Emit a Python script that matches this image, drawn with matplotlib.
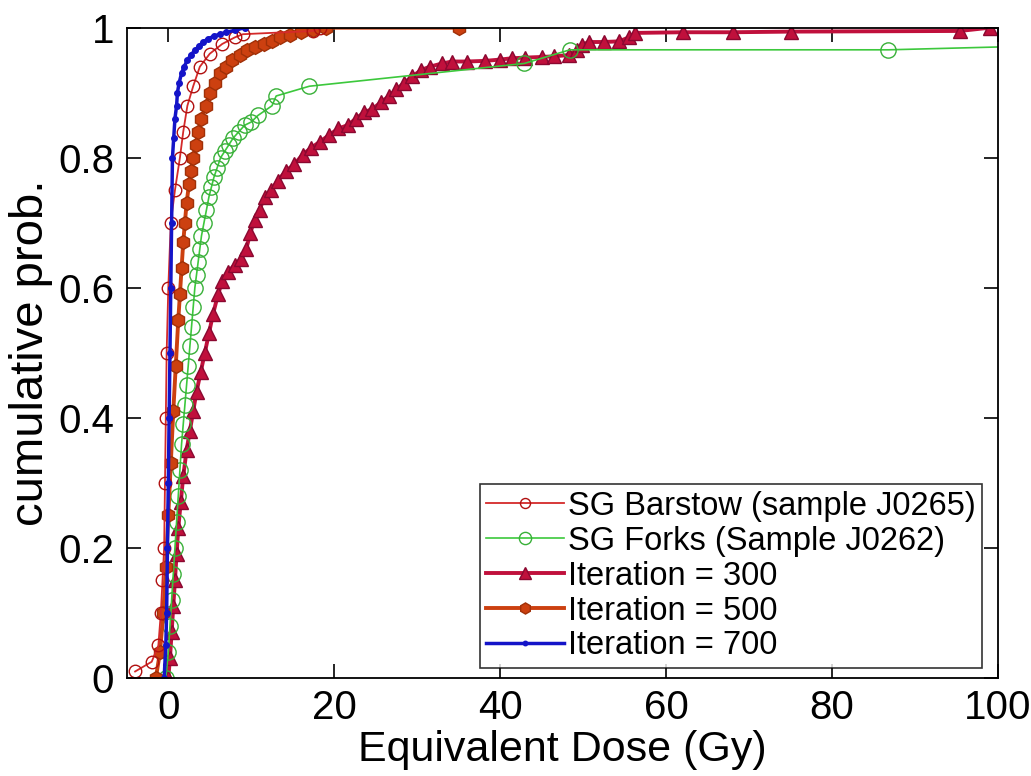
import matplotlib
matplotlib.use("Agg")
import matplotlib.pyplot as plt

plt.rcParams['font.family'] = ['Liberation Sans', 'DejaVu Sans']

# ---------------- data ----------------
barstow_x = [-4.0, -2.0, -1.2, -0.9, -0.7, -0.5, -0.4, -0.3, -0.2, 0.0, 0.3, 0.8,
             1.4, 1.8, 2.3, 3.0, 3.8, 5.0, 6.5, 8.0, 9.0, 17.5, 18.3]
barstow_y = [0.01, 0.025, 0.05, 0.10, 0.15, 0.20, 0.30, 0.40, 0.50, 0.60, 0.70, 0.75,
             0.80, 0.84, 0.88, 0.91, 0.94, 0.96, 0.975, 0.985, 0.99, 0.995, 1.0]

forks_x = [-0.3, 0.0, 0.2, 0.4, 0.6, 0.8, 1.0, 1.2, 1.4, 1.6, 1.8, 2.0, 2.2, 2.4, 2.6,
           2.8, 3.0, 3.2, 3.4, 3.6, 3.8, 4.0, 4.3, 4.6, 4.9, 5.2, 5.5, 5.9, 6.3, 6.8,
           7.3, 7.8, 8.5, 9.2, 10.0, 10.8, 12.5, 13.0, 17.0, 42.9, 48.4, 86.8, 105.0]
forks_y = [0.0, 0.04, 0.08, 0.12, 0.16, 0.20, 0.24, 0.28, 0.32, 0.36, 0.39, 0.42, 0.45,
           0.48, 0.51, 0.54, 0.57, 0.60, 0.62, 0.64, 0.66, 0.68, 0.70, 0.72, 0.74, 0.755,
           0.77, 0.785, 0.80, 0.81, 0.82, 0.83, 0.84, 0.85, 0.855, 0.865, 0.88, 0.895,
           0.91, 0.945, 0.966, 0.966, 0.972]

it300_x = [0.0, 0.2, 0.4, 0.6, 0.8, 1.0, 1.2, 1.5, 1.8, 2.2, 2.6, 3.0, 3.4, 3.9, 4.4,
           4.9, 5.4, 6.0, 6.5, 7.2, 8.0, 8.8, 9.4, 9.9, 10.4, 11.0, 11.6, 12.4, 13.2,
           14.2, 15.2, 16.2, 17.2, 18.3, 19.4, 20.5, 21.6, 22.6, 23.6, 24.6, 25.6, 26.6,
           27.5, 28.4, 29.4, 30.5, 31.5, 33.0, 34.2, 36.0, 38.2, 40.0, 41.4, 43.0, 45.0,
           46.5, 48.3, 49.2, 49.9, 50.7, 52.5, 54.3, 55.5, 56.3, 62.0, 68.0, 75.0, 95.4, 99.0]
it300_y = [0.0, 0.03, 0.07, 0.11, 0.15, 0.19, 0.23, 0.27, 0.31, 0.35, 0.38, 0.41, 0.44,
           0.47, 0.50, 0.53, 0.56, 0.59, 0.61, 0.625, 0.635, 0.645, 0.66, 0.685, 0.705,
           0.72, 0.74, 0.75, 0.765, 0.78, 0.79, 0.805, 0.815, 0.825, 0.835, 0.845, 0.85,
           0.86, 0.87, 0.875, 0.885, 0.895, 0.905, 0.915, 0.925, 0.935, 0.94, 0.945,
           0.948, 0.948, 0.949, 0.951, 0.953, 0.954, 0.955, 0.956, 0.958, 0.966, 0.974,
           0.978, 0.978, 0.979, 0.985, 0.992, 0.993, 0.993, 0.994, 0.995, 1.0]

it500_x = [-1.5, -1.0, -0.6, -0.3, 0.0, 0.3, 0.6, 0.9, 1.2, 1.4, 1.6, 1.8, 2.0, 2.2,
           2.5, 2.7, 3.0, 3.3, 3.6, 4.0, 4.5, 5.0, 5.6, 6.2, 6.9, 7.7, 8.6, 9.5, 10.5,
           11.5, 12.5, 13.5, 14.7, 16.0, 17.5, 19.0, 35.0]
it500_y = [0.0, 0.04, 0.10, 0.17, 0.25, 0.33, 0.41, 0.48, 0.55, 0.59, 0.63, 0.67, 0.70,
           0.73, 0.76, 0.78, 0.80, 0.82, 0.84, 0.86, 0.88, 0.90, 0.915, 0.93, 0.94, 0.95,
           0.958, 0.965, 0.97, 0.975, 0.98, 0.985, 0.989, 0.993, 0.997, 1.0, 1.0]

it700_x = [-0.5, -0.3, -0.2, -0.1, 0.0, 0.1, 0.2, 0.3, 0.4, 0.5, 0.65, 0.8, 1.0, 1.1,
           1.3, 1.6, 1.9, 2.3, 2.7, 3.2, 3.7, 4.2, 4.8, 5.5, 6.2, 7.0, 8.0, 9.2]
it700_y = [0.0, 0.05, 0.10, 0.20, 0.30, 0.40, 0.50, 0.60, 0.70, 0.80, 0.83, 0.86, 0.88,
           0.90, 0.915, 0.93, 0.94, 0.95, 0.958, 0.965, 0.972, 0.978, 0.983, 0.987,
           0.99, 0.993, 0.996, 1.0]

labels = ['SG Barstow (sample J0265)', 'SG Forks (Sample J0262)',
          'Iteration = 300', 'Iteration = 500', 'Iteration = 700']
x_ticks = [0, 20, 40, 60, 80, 100]
y_ticks = [0, 0.2, 0.4, 0.6, 0.8, 1]
y_tick_labels = ['0', '0.2', '0.4', '0.6', '0.8', '1']

# ---------------- plot ----------------
fig = plt.figure(figsize=(10.31, 7.76), dpi=100)
ax = fig.add_axes([0.123, 0.1263, 0.845, 0.838])

ax.plot(barstow_x, barstow_y, linestyle='-', marker='o', color='#D42A2A', lw=1.3,
        ms=9, mfc='none', mec='#B01010', mew=1.0, label=labels[0], zorder=4)
ax.plot(forks_x, forks_y, linestyle='-', marker='o', color='#3CC83C', lw=1.2, ms=11,
        mfc='none', mec='#38B038', mew=1.0, label=labels[1], zorder=3)
ax.plot(it300_x, it300_y, linestyle='-', marker='^', color='#C0103C', lw=2.8, ms=10,
        mfc='#C0103C', mec='#8A0830', mew=1.0, label=labels[2], zorder=2)
ax.plot(it500_x, it500_y, linestyle='-', marker='h', color='#CC4010', lw=2.8, ms=10,
        mfc='#CC4010', mec='#A03008', mew=1.0, label=labels[3], zorder=3)
ax.plot(it700_x, it700_y, linestyle='-', marker='.', color='#1414C8', lw=2.5, ms=8,
        mfc='#1414C8', mec='#1414C8', label=labels[4], zorder=5)

ax.set_xlim(-5, 100)
ax.set_ylim(0, 1)
ax.set_xticks(x_ticks)
ax.set_yticks(y_ticks)
ax.set_yticklabels(y_tick_labels)
ax.tick_params(direction='in', length=10, width=1.2, labelsize=29,
               top=True, right=True)
ax.tick_params(axis='y', pad=9)
ax.tick_params(axis='x', pad=8)
for s in ax.spines.values():
    s.set_linewidth(1.3)
    s.set_zorder(6)

ax.set_xlabel('Equivalent Dose (Gy)', fontsize=31, labelpad=2)
ax.set_ylabel('cumulative prob.', fontsize=34)
ax.yaxis.set_label_coords(-0.085, 0.5)

leg = ax.legend(loc='lower right', bbox_to_anchor=(0.9816, 0.0154),
                fontsize=23.5, frameon=True, fancybox=False,
                edgecolor='black', handlelength=2.4, handletextpad=0.1,
                borderpad=0.2, labelspacing=0.12, borderaxespad=0.0,
                markerscale=0.8)
leg.get_frame().set_linewidth(1.2)
leg.set_zorder(7)

fig.savefig('out.png', dpi=100)
